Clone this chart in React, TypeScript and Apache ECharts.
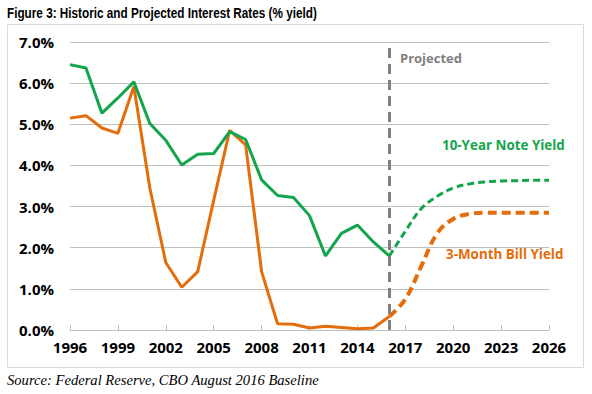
import React, { useEffect, useRef } from "react";
import * as echarts from "echarts";

const years = [
  "1996", "1997", "1998", "1999", "2000", "2001", "2002", "2003", "2004", "2005", "2006",
  "2007", "2008", "2009", "2010", "2011", "2012", "2013", "2014", "2015", "2016",
  "2017", "2018", "2019", "2020", "2021", "2022", "2023", "2024", "2025", "2026",
];
// 1996-2016
const noteHistoric = [6.45, 6.37, 5.27, 5.64, 6.03, 5.02, 4.61, 4.01, 4.27, 4.29, 4.82, 4.63, 3.65, 3.27, 3.22, 2.78, 1.8, 2.35, 2.55, 2.14, 1.8];
const billHistoric = [5.15, 5.21, 4.91, 4.78, 5.92, 3.45, 1.64, 1.04, 1.42, 3.15, 4.85, 4.5, 1.42, 0.15, 0.14, 0.05, 0.09, 0.06, 0.03, 0.05, 0.33];
// 2016-2026
const noteProjected = [1.8, 2.4, 2.95, 3.25, 3.45, 3.55, 3.6, 3.62, 3.63, 3.64, 3.64];
const billProjected = [0.33, 0.75, 1.55, 2.35, 2.7, 2.82, 2.85, 2.85, 2.85, 2.85, 2.85];
const projectionStart = "2016";

const GREEN = "#12A54C";
const ORANGE = "#E46C0A";
const FONT = "'Open Sans', sans-serif";

export default function App() {
  const ref = useRef<HTMLDivElement>(null);
  useEffect(() => {
    document.body.style.margin = "0";
    const chart = echarts.init(ref.current!, null, { renderer: "svg" });
    const nHist = years.map((_, i) => (i < noteHistoric.length ? noteHistoric[i] : null));
    const bHist = years.map((_, i) => (i < billHistoric.length ? billHistoric[i] : null));
    const off = years.length - noteProjected.length;
    const nProj = years.map((_, i) => (i >= off ? noteProjected[i - off] : null));
    const bProj = years.map((_, i) => (i >= off ? billProjected[i - off] : null));
    chart.setOption({
      animation: false,
      grid: { left: 70, right: 43, top: 42, bottom: 64, containLabel: false },
      xAxis: {
        type: "category",
        data: years,
        boundaryGap: false,
        axisLine: { lineStyle: { color: "#BFBFBF", width: 1 } },
        axisTick: { inside: true, length: 5, interval: 2, lineStyle: { color: "#BFBFBF" } },
        axisLabel: {
          interval: 2,
          color: "#000",
          fontFamily: FONT,
          fontWeight: "bold",
          fontSize: 15,
          margin: 9,
        },
        splitLine: { show: false },
      },
      yAxis: {
        type: "value",
        min: 0,
        max: 7,
        interval: 1,
        axisLine: { show: false },
        axisTick: { show: false },
        axisLabel: {
          formatter: (v: number) => v.toFixed(1) + "%",
          color: "#000",
          fontFamily: FONT,
          fontWeight: "bold",
          fontSize: 15,
          margin: 16,
        },
        splitLine: { lineStyle: { color: "#BFBFBF", width: 1 } },
      },
      series: [
        {
          type: "line",
          data: nHist,
          symbol: "none",
          lineStyle: { color: GREEN, width: 3 },
          z: 3,
        },
        {
          type: "line",
          data: bHist,
          symbol: "none",
          lineStyle: { color: ORANGE, width: 3 },
          z: 2,
          markLine: {
            silent: true,
            symbol: "none",
            label: { show: false },
            lineStyle: { color: "#808080", width: 3, type: [10, 6] },
            data: [{ xAxis: projectionStart }],
          },
        },
        {
          type: "line",
          data: nProj,
          symbol: "none",
          smooth: 0.4,
          lineStyle: { color: GREEN, width: 3, type: [7, 4] },
          z: 3,
        },
        {
          type: "line",
          data: bProj,
          symbol: "none",
          smooth: 0.4,
          lineStyle: { color: ORANGE, width: 4, type: [9, 5] },
          z: 2,
        },
      ],
      graphic: [
        {
          type: "rect",
          shape: { x: 7.5, y: 24.5, width: 576, height: 343 },
          style: { fill: "none", stroke: "#D9D9D9", lineWidth: 1 },
          z: -1,
        },
        {
          type: "text",
          x: 7,
          y: 6,
          scaleX: 0.84,
          style: {
            text: "Figure 3: Historic and Projected Interest Rates (% yield)",
            font: "bold 14px 'Liberation Sans', Arial, sans-serif",
            fill: "#000",
          },
        },
        {
          type: "text",
          x: 400,
          y: 51,
          style: {
            text: "Projected",
            font: "bold 13px " + FONT,
            fill: "#808080",
          },
        },
        {
          type: "text",
          x: 442,
          y: 138,
          style: {
            text: "10-Year Note Yield",
            font: "bold 13.4px " + FONT,
            fill: GREEN,
          },
        },
        {
          type: "text",
          x: 446,
          y: 247,
          style: {
            text: "3-Month Bill Yield",
            font: "bold 13.4px " + FONT,
            fill: ORANGE,
          },
        },
        {
          type: "text",
          x: 7,
          y: 372,
          style: {
            text: "Source: Federal Reserve, CBO August 2016 Baseline",
            font: "italic 14.6px 'Liberation Serif', serif",
            fill: "#000",
          },
        },
      ],
    });
    return () => chart.dispose();
  }, []);
  return <div ref={ref} style={{ position: "absolute", left: 0, top: 0, width: 592, height: 394 }} />;
}
